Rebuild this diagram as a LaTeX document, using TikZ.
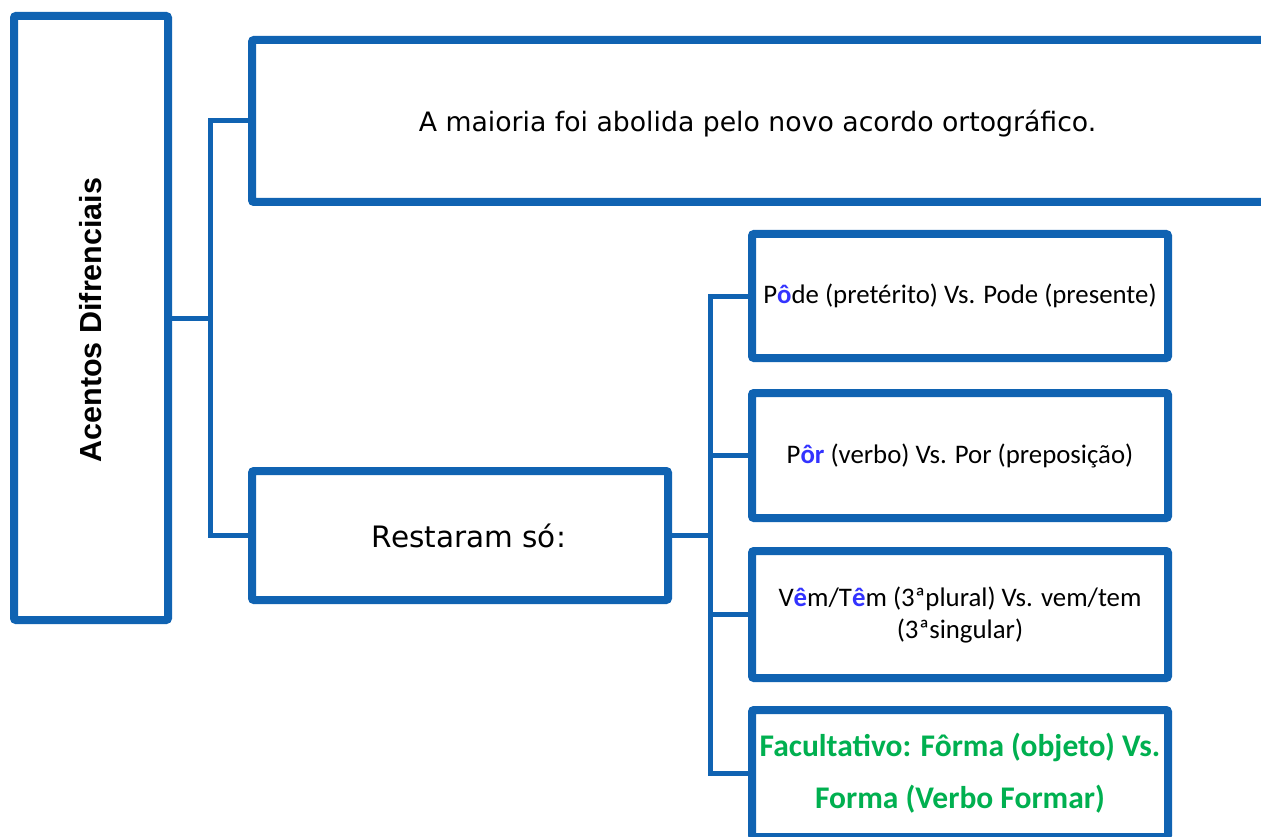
\documentclass[tikz,border=0pt]{standalone}
\usepackage{fontspec}
\usepackage{xcolor}
\usetikzlibrary{shadows}
\newfontfamily\verdfont{DejaVu Sans}
\newfontfamily\calibfont{Carlito}
\newfontfamily\arialfont{Liberation Sans}
\definecolor{frameblue}{RGB}{16,99,178}
\definecolor{accentblue}{RGB}{51,51,255}
\definecolor{facgreen}{RGB}{0,176,80}
\newcommand{\acc}[1]{{\color{accentblue}\bfseries #1}}

\tikzset{
  box/.style={draw=frameblue, line width=8pt, fill=white, rounded corners=2pt,
    drop shadow={shadow xshift=1.5pt, shadow yshift=-3pt, opacity=0.35},
    inner sep=0pt, align=center},
  link/.style={draw=frameblue, line width=5pt}
}

\begin{document}
\begin{tikzpicture}[x=1pt, y=-1pt]
\useasboundingbox (0,0) rectangle (1261,837);
\clip (0,0) rectangle (1261,837);

% linke Spalte
\node[box, minimum width=154pt, minimum height=604pt] (lbox) at (91,318) {};
\node[rotate=90, font=\arialfont\bfseries\fontsize{30.5}{36}\selectfont] (ltitle) at (91,320) {Acentos Difrenciais};

% mittlere Spalte
\node[box, minimum width=1013pt, minimum height=162pt] (abol) at (758.5,121) {};
\node[font=\verdfont\fontsize{26.7}{32}\selectfont] (aboltxt) at (757.5,124) {A maioria foi abolida pelo novo acordo ortográfico.};
\node[box, minimum width=416pt, minimum height=129pt,
  font=\verdfont\fontsize{29.5}{34}\selectfont] (rest) at (460,535.5) {\hspace*{18pt}Restaram só:};

% rechte Spalte
\node[box, minimum width=416pt, minimum height=124pt,
  font=\calibfont\fontsize{26.8}{32}\selectfont] (b1) at (960,296) {P\acc{ô}de (pretérito) Vs. Pode (presente)};
\node[box, minimum width=416pt, minimum height=125pt,
  font=\calibfont\fontsize{26.8}{32}\selectfont] (b2) at (960,455.5) {P\acc{ôr} (verbo) Vs. Por (preposição)};
\node[box, minimum width=416pt, minimum height=127pt,
  font=\calibfont\fontsize{26.8}{32}\selectfont] (b3) at (960,614.5) {V\acc{ê}m/T\acc{ê}m (3ªplural) Vs. vem/tem\\(3ªsingular)};
\node[box, minimum width=416pt, minimum height=127pt,
  font=\calibfont\bfseries\fontsize{31.5}{52}\selectfont, text=facgreen] (b4) at (960,773.5) {Facultativo: Fôrma (objeto) Vs.\\Forma (Verbo Formar)};

% Verbindungen
\coordinate (spineA) at (210,318);
\coordinate (spineB) at (710,535.5);
\draw[link] (lbox.east) -- (spineA);
\draw[link] (abol.west) -| (spineA) |- (rest.west);
\draw[link] (rest.east) -- (spineB);
\draw[link] (b1.west) -| (spineB) |- (b4.west);
\foreach \b in {b2,b3}
  \draw[link] (\b.west) -- (\b.west -| spineB);
\end{tikzpicture}
\end{document}
